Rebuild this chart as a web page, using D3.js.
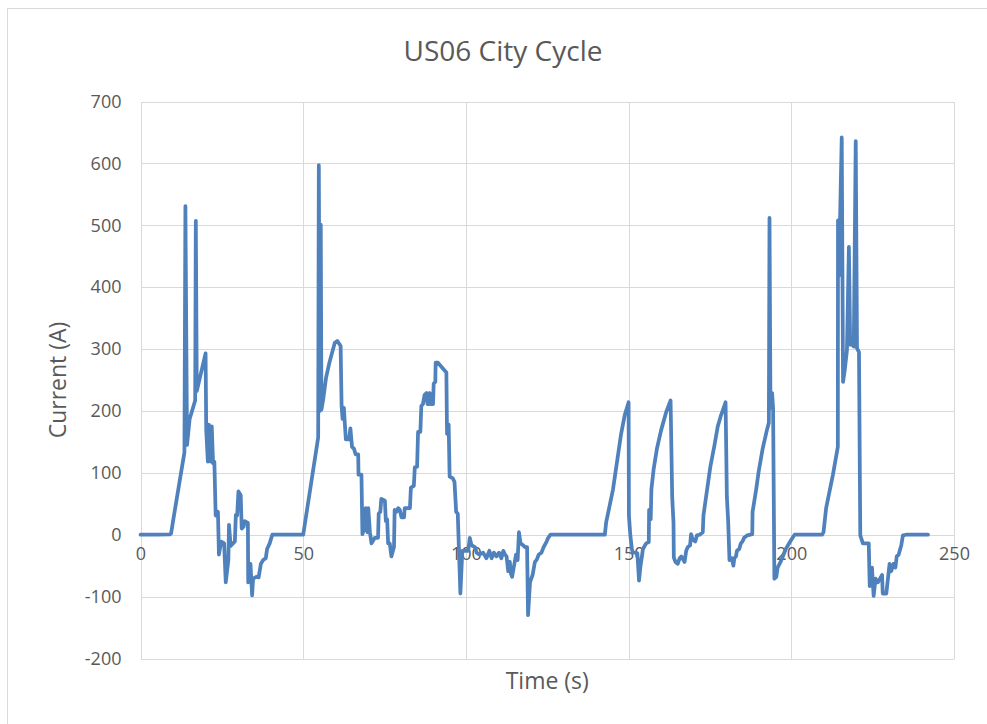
<!DOCTYPE html>
<html>
<head>
<meta charset="utf-8">
<script src="https://cdn.jsdelivr.net/npm/d3@7"></script>
<style>
  html, body { margin: 0; padding: 0; background: #ffffff; }
  svg { display: block; }
</style>
</head>
<body>
<svg id="chart" width="987" height="724"></svg>
<script>
// ---- Data ----
const chartTitle = "US06 City Cycle";
const xAxisTitle = "Time (s)";
const yAxisTitle = "Current (A)";
const xTicks = [0, 50, 100, 150, 200, 250];
const yTicks = [-200, -100, 0, 100, 200, 300, 400, 500, 600, 700];

const timeS = [
  0, 5, 9, 9.4, 10, 13.5, 13.8, 14.3, 15.1, 16.8, 17, 17.3, 20, 20.2, 20.7, 21, 21.6, 21.9, 22.3, 22.7,
  23.1, 23.8, 24.1, 24.8, 25.7, 26.2, 27, 27.2, 27.7, 29, 29.3, 29.7, 30.1, 30.8, 31.1, 31.7, 32, 33, 33.1, 33.8,
  34.3, 34.6, 35.6, 36.3, 37, 37.7, 38.5, 38.9, 39.7, 40.5, 49.5,
  50, 54.6, 54.8, 55.1, 55.4, 55.6, 56.1, 57, 58, 59.7, 60.5, 61.5, 61.8, 62.1, 62.5, 63.1, 64.1, 64.5, 65, 65.6,
  66.1, 66.9, 67, 67.9, 68.2, 68.9, 69.2, 69.7, 70, 70.5, 71, 72, 73, 73.2, 73.7, 74, 75.1, 75.4, 75.8, 76.1,
  76.6, 77.1, 77.9, 78.1, 78.7, 79.2, 79.7, 80.2, 81, 81.2, 82.8, 83.1, 84, 84.3, 85, 85.3, 86, 86.3, 86.8, 87.3,
  87.9, 88.2, 88.7, 88.9, 89.2, 89.9, 90.1, 90.6, 90.7, 91.4, 94, 94.2, 94.7, 95, 96, 96.5, 97, 97.5, 98.3, 98.9, 99.6,
  100, 100.7, 101.2, 101.7, 102.8, 103.3, 104.1, 105.3, 106.3, 107.2, 107.9, 108.6, 109.4, 110.2, 110.9, 111.5, 112, 112.5, 113, 113.5,
  113.8, 114.2, 114.7, 115, 115.4, 115.9, 116.3, 116.8, 117.6, 118.1, 118.8, 119.1, 119.7, 120.5, 121.2, 121.7, 122.4, 123.2, 123.9, 124.8,
  125.3, 126, 142.7,
  143.1, 145.2, 147.7, 148.8, 150, 150.1, 150.5, 151, 151.3, 152.1, 152.7, 153.2, 153.6, 154.4, 155.4, 156.2, 156.3, 156.8, 157, 157.7,
  158.7, 160, 161.6, 162.9, 163.4, 163.8, 163.9, 164.4, 165.1, 165.7, 166.2, 167.2, 167.7, 168.2, 168.9, 169.2, 169.7, 170.5, 171, 171.8,
  172.8, 173, 173.8, 175.1, 176.4, 177.4, 178.4, 179.8, 180.2, 180.6, 181, 181.7, 182.2, 182.5, 183, 183.3, 184, 184.5, 185, 185.5,
  186.5, 188, 188.1, 189.2, 190, 191.2, 192.5, 193.1, 193.3, 193.6, 194.1, 194.4, 194.8, 195.4, 195.8, 196.7, 198.3, 200, 201,
  209.5, 209.9, 210.7, 212.8, 214.3, 214.35, 214.6, 215, 215.5, 215.9, 216.4, 217.1, 217.7, 218.1, 218.7, 219.2, 219.8, 220.2, 220.8, 221.2,
  222, 222.8, 223.8, 224.1, 224.8, 225.3, 225.9, 226.6, 227.9, 228.1, 229.2, 230.2, 230.7, 231.4, 232, 232.4, 233, 233.8, 234.3, 235.3, 242
];

const currentA = [
  0, 0, 0.5, 2, 22, 133, 531, 145, 187, 217, 507, 232, 293, 169, 118, 178, 118, 175, 115, 118,
  31, 37, -32, -11, -14, -77, -41, 16, -18, -11, 32, 31, 70, 64, 10, 13, 22, 19, -77, -47,
  -98, -71, -68, -69, -47, -41, -38, -23, -14, 0, 0,
  0, 157, 597, 200, 501, 202, 217, 253, 277, 310, 313, 305, 208, 187, 205, 154, 154, 172, 142, 139,
  130, 130, 97, 97, 1, 13, 43, 4, 43, 4, -14, -5, -5, 34, 37, 58, 55, 22, 25, -14,
  -14, -35, -20, 40, 37, 43, 40, 28, 28, 43, 43, 76, 79, 109, 110, 166, 166, 208, 211, 226,
  229, 211, 211, 229, 211, 211, 244, 247, 278, 278, 262, 163, 178, 94, 91, 85, 37, 34, -95, -26, -26,
  -26, -26, -5, -17, -20, -29, -32, -29, -38, -26, -38, -29, -35, -29, -38, -26, -32, -35, -59, -44,
  -62, -68, -53, -44, -32, -41, 4, -14, -17, -20, -20, -130, -77, -65, -44, -41, -32, -29, -20, -11,
  -5, 0, 0,
  20, 73, 163, 193, 214, 31, 1, -23, -29, -29, -30, -74, -53, -23, -14, -12, 40, 25, 73, 106,
  139, 169, 199, 217, 61, 19, -37, -44, -47, -38, -35, -44, -26, -20, -17, 1, -8, -11, -1, 0,
  4, 31, 61, 109, 145, 175, 193, 214, 61, 22, -41, -38, -50, -38, -35, -26, -23, -14, -11, -5,
  -1, 1, 37, 73, 103, 139, 169, 181, 512, 205, 229, 205, -71, -68, -53, -44, -23, -8, 0,
  0, 4, 43, 97, 142, 508, 418, 514, 642, 247, 265, 298, 465, 307, 307, 304, 636, 301, 295, -1,
  -14, -14, -14, -83, -53, -99, -71, -77, -65, -95, -95, -47, -59, -47, -53, -35, -32, -17, -1, 0, 0
];

// ---- Drawing ----
const svg = d3.select("#chart");
const W = 987, H = 724;
const plot = { left: 140.5, right: 954, top: 101.5, bottom: 658.5 };
const fontFamily = "'Open Sans', 'Noto Sans', sans-serif";
const gridColor = "#d9d9d9";
const textColor = "#595959";
const lineColor = "#4f81bd";
const fmt = d => String(d); // plain hyphen-minus as in the reference

// chart-area border (extends beyond the visible canvas on right and bottom)
svg.append("rect")
  .attr("x", 7.5).attr("y", 8.5)
  .attr("width", W + 20).attr("height", H + 20)
  .attr("fill", "#ffffff")
  .attr("stroke", gridColor).attr("stroke-width", 1);

const x = d3.scaleLinear().domain([0, 250]).range([plot.left, plot.right]);
const y = d3.scaleLinear().domain([-200, 700]).range([plot.bottom, plot.top]);

// horizontal gridlines (y axis)
const yAxis = d3.axisLeft(y).tickValues(yTicks).tickSize(-(plot.right - plot.left)).tickFormat(fmt).tickPadding(19);
const gy = svg.append("g").attr("transform", `translate(${plot.left},0)`).call(yAxis);
gy.select(".domain").remove();
gy.selectAll(".tick line").attr("stroke", gridColor).attr("stroke-width", 1).attr("shape-rendering", "crispEdges");
gy.selectAll(".tick text")
  .attr("fill", textColor).attr("font-family", fontFamily).attr("font-size", "18px");

// vertical gridlines (x axis)
const xGrid = d3.axisBottom(x).tickValues(xTicks).tickSize(-(plot.bottom - plot.top)).tickFormat("");
const gx = svg.append("g").attr("transform", `translate(0,${plot.bottom})`).call(xGrid);
gx.select(".domain").remove();
gx.selectAll(".tick line").attr("stroke", gridColor).attr("stroke-width", 1).attr("shape-rendering", "crispEdges");

// x tick labels placed just below the zero line (axis crosses at 0)
const xLabels = d3.axisBottom(x).tickValues(xTicks).tickSize(0).tickPadding(13).tickFormat(fmt);
const gxl = svg.append("g").attr("transform", `translate(0,${y(0)})`).call(xLabels);
gxl.select(".domain").remove();
gxl.selectAll(".tick text")
  .attr("fill", textColor).attr("font-family", fontFamily).attr("font-size", "18px");

// data line
const pts = timeS.map((t, i) => [t, currentA[i]]);
const line = d3.line().x(d => x(d[0])).y(d => y(d[1]));
svg.append("path")
  .datum(pts)
  .attr("d", line)
  .attr("fill", "none")
  .attr("stroke", lineColor)
  .attr("stroke-width", 3.75)
  .attr("stroke-linejoin", "round")
  .attr("stroke-linecap", "round");

// titles
svg.append("text")
  .attr("x", 503).attr("y", 61)
  .attr("text-anchor", "middle")
  .attr("font-family", fontFamily).attr("font-size", "28px")
  .attr("fill", textColor)
  .text(chartTitle);

svg.append("text")
  .attr("x", (plot.left + plot.right) / 2).attr("y", 689)
  .attr("text-anchor", "middle")
  .attr("font-family", fontFamily).attr("font-size", "23px")
  .attr("fill", textColor)
  .text(xAxisTitle);

svg.append("text")
  .attr("transform", `translate(66,${(plot.top + plot.bottom) / 2}) rotate(-90)`)
  .attr("text-anchor", "middle")
  .attr("font-family", fontFamily).attr("font-size", "23px")
  .attr("fill", textColor)
  .text(yAxisTitle);
</script>
</body>
</html>
